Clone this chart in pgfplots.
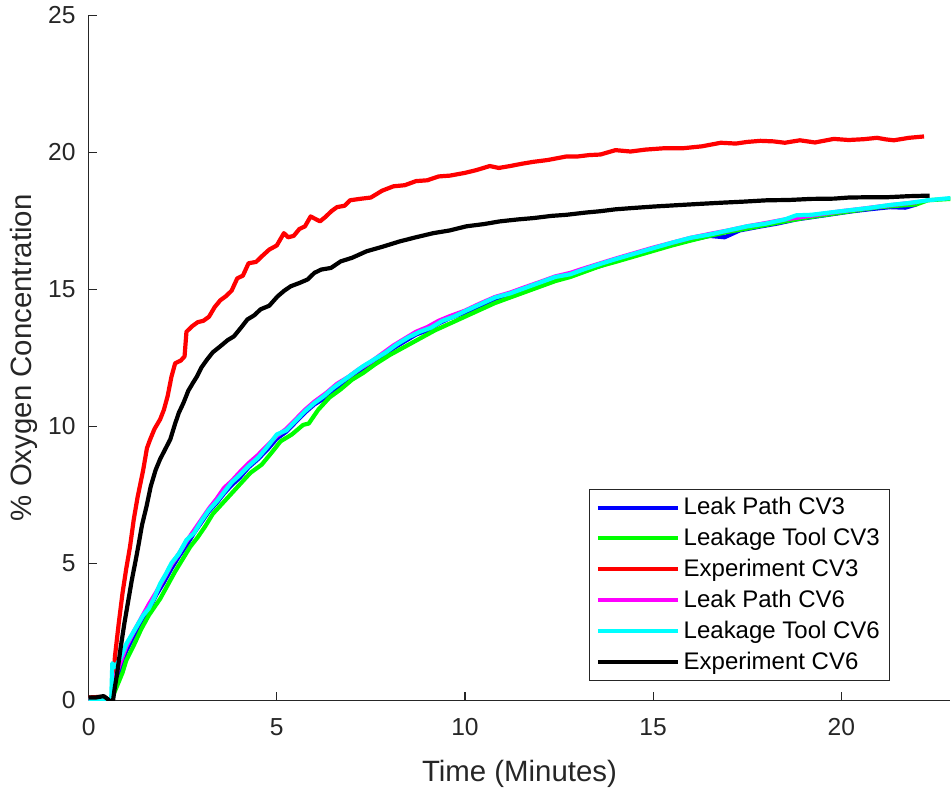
\documentclass[border=0pt]{standalone}
\usepackage{pgfplots}
\pgfplotsset{compat=1.18}
\usepackage{fontspec}
\setmainfont{Liberation Sans}
\definecolor{axgray}{RGB}{38,38,38}
\definecolor{cblue}{RGB}{0,0,255}
\definecolor{cgreen}{RGB}{0,255,0}
\definecolor{cred}{RGB}{255,0,0}
\definecolor{cmag}{RGB}{255,0,255}
\definecolor{ccyan}{RGB}{0,255,255}
\begin{document}
\begin{tikzpicture}
\begin{axis}[
  width=431pt, height=342.5pt, scale only axis,
  xmin=0, xmax=22.9, ymin=0, ymax=25,
  axis lines*=left,
  axis line style={draw=axgray, line width=0.6pt},
  tick style={draw=axgray, line width=0.6pt},
  tick align=inside, major tick length=4pt,
  xtick={0,5,10,15,20}, ytick={0,5,10,15,20,25},
  /pgf/number format/assume math mode=true,
  tick label style={font=\fontsize{12.3}{14}\selectfont, text=axgray},
  xticklabel style={yshift=-5.5pt},
  yticklabel style={xshift=-3pt},
  xlabel={Time (Minutes)},
  ylabel={\% Oxygen Concentration},
  xlabel shift=5.5pt,
  ylabel shift=-1.5pt,
  ylabel style={name=ylab},
  label style={font=\fontsize{14.7}{17}\selectfont, text=axgray},
  legend style={at={(axis description cs:1,0)}, anchor=south east, xshift=-30pt, yshift=9.5pt,
    draw=axgray, line width=0.6pt, fill=white, font=\fontsize{12}{14}\selectfont,
    row sep=1.3pt, inner xsep=3pt, inner ysep=2pt},
  legend cell align=left,
  legend image code/.code={\draw[#1, line width=2pt] (0pt,0pt) -- (40pt,0pt);},
  every axis plot/.append style={line width=2.1pt, line join=round},
]
\addplot[color=cblue] coordinates {
(0,0) (0.6,0) (0.7,0.6) (0.85,1.2) (1.0,1.8) (1.2,2.35) (1.4,2.85) (1.6,3.3) (1.8,3.85) (2.0,4.3) (2.2,4.8) (2.4,5.25) (2.6,5.65) (2.8,6.1) (3.0,6.5) (3.2,6.9) (3.4,7.2) (3.6,7.55) (3.8,7.85) (4.0,8.1) (4.25,8.5) (4.5,8.8) (4.75,9.15) (5.0,9.55) (5.25,9.8) (5.5,10.15) (5.75,10.5) (6.0,10.8) (6.3,11.05) (6.6,11.4) (6.9,11.7) (7.2,12.0) (7.5,12.25) (7.8,12.55) (8.1,12.85) (8.4,13.1) (8.7,13.35) (9.0,13.5) (9.3,13.75) (9.6,13.95) (10.0,14.15) (10.4,14.4) (10.8,14.65) (11.2,14.8) (11.6,15.0) (12.0,15.2) (12.4,15.4) (12.8,15.5) (13.2,15.7) (13.6,15.85) (14.0,16.05) (14.5,16.25) (15.0,16.45) (15.5,16.62) (16.0,16.8) (16.5,16.95) (16.9,16.9) (17.3,17.15) (17.8,17.28) (18.3,17.4) (18.8,17.55) (19.3,17.65) (19.8,17.75) (20.3,17.85) (20.8,17.93) (21.3,18.0) (21.7,17.98) (22.0,18.1)
};
\addlegendentry{Leak Path CV3}
\addplot[color=cgreen] coordinates {
(0,0) (0.6,0) (0.75,0.5) (0.9,1.0) (1.0,1.45) (1.2,2.0) (1.4,2.6) (1.6,3.1) (1.8,3.5) (1.9,3.7) (2.1,4.2) (2.3,4.7) (2.5,5.15) (2.7,5.6) (2.9,5.95) (3.1,6.35) (3.3,6.8) (3.5,7.1) (3.7,7.4) (3.9,7.7) (4.1,8.0) (4.3,8.3) (4.6,8.6) (4.9,9.1) (5.1,9.45) (5.4,9.7) (5.7,10.05) (5.85,10.1) (6.1,10.6) (6.4,11.05) (6.7,11.35) (7.0,11.7) (7.3,11.95) (7.6,12.25) (8.0,12.6) (8.4,12.9) (8.8,13.2) (9.2,13.5) (9.6,13.75) (10.0,14.0) (10.4,14.25) (10.8,14.5) (11.2,14.7) (11.6,14.9) (12.0,15.1) (12.4,15.3) (12.8,15.45) (13.2,15.65) (13.6,15.85) (14.0,16.0) (14.5,16.2) (15.0,16.4) (15.5,16.6) (16.0,16.78) (16.5,16.95) (17.0,17.1) (17.5,17.22) (18.0,17.35) (18.5,17.48) (19.0,17.6) (19.5,17.7) (20.0,17.8) (20.5,17.9) (21.0,18.0) (21.5,18.05) (22.0,18.1) (22.3,18.25) (22.9,18.3)
};
\addlegendentry{Leakage Tool CV3}
\addplot[color=cred] coordinates {
(0,0.1) (0.3,0.12) (0.45,0.1) (0.55,-0.05) (0.62,0.0) (0.7,1.6) (0.8,2.8) (0.9,3.9) (1.0,4.8) (1.1,5.6) (1.2,6.6) (1.3,7.4) (1.36,7.8) (1.45,8.4) (1.55,9.2) (1.63,9.5) (1.75,9.9) (1.9,10.25) (2.0,10.6) (2.1,11.1) (2.2,11.8) (2.3,12.3) (2.45,12.4) (2.55,12.55) (2.6,13.45) (2.75,13.65) (2.9,13.8) (3.05,13.85) (3.2,14.0) (3.35,14.35) (3.5,14.6) (3.65,14.75) (3.8,14.95) (3.95,15.4) (4.1,15.5) (4.25,15.95) (4.45,16.0) (4.6,16.2) (4.8,16.45) (5.0,16.6) (5.19,17.05) (5.3,16.9) (5.45,16.95) (5.6,17.2) (5.75,17.3) (5.9,17.66) (6.05,17.55) (6.15,17.48) (6.3,17.65) (6.45,17.85) (6.6,18.0) (6.8,18.05) (6.95,18.25) (7.2,18.3) (7.5,18.35) (7.8,18.6) (8.1,18.76) (8.4,18.8) (8.7,18.95) (9.0,18.98) (9.3,19.12) (9.6,19.15) (10.0,19.25) (10.3,19.35) (10.66,19.5) (10.9,19.43) (11.2,19.5) (11.5,19.58) (11.8,19.65) (12.2,19.72) (12.7,19.85) (13.0,19.85) (13.3,19.9) (13.6,19.92) (14.0,20.08) (14.4,20.03) (14.8,20.1) (15.3,20.15) (15.8,20.15) (16.3,20.22) (16.8,20.35) (17.2,20.32) (17.5,20.38) (17.85,20.42) (18.2,20.4) (18.5,20.35) (18.9,20.44) (19.3,20.36) (19.8,20.49) (20.2,20.45) (20.6,20.48) (20.95,20.53) (21.2,20.47) (21.4,20.44) (21.8,20.53) (22.2,20.58)
};
\addlegendentry{Experiment CV3}
\addplot[color=cmag] coordinates {
(0,0) (0.6,0) (0.7,0.8) (0.85,1.4) (1.0,1.95) (1.2,2.5) (1.4,3.0) (1.6,3.5) (1.8,3.95) (2.0,4.45) (2.2,4.95) (2.4,5.35) (2.6,5.8) (2.8,6.2) (3.0,6.6) (3.2,7.0) (3.4,7.35) (3.6,7.75) (3.8,8.0) (4.0,8.3) (4.25,8.65) (4.5,8.95) (4.75,9.3) (5.0,9.65) (5.25,9.9) (5.5,10.25) (5.75,10.6) (6.0,10.9) (6.3,11.2) (6.6,11.55) (6.9,11.8) (7.2,12.1) (7.5,12.35) (7.8,12.65) (8.1,12.95) (8.4,13.2) (8.7,13.45) (9.0,13.62) (9.3,13.85) (9.6,14.02) (10.0,14.22) (10.4,14.48) (10.8,14.72) (11.2,14.88) (11.6,15.08) (12.0,15.27) (12.4,15.47) (12.8,15.6) (13.2,15.78) (13.6,15.95) (14.0,16.12) (14.5,16.32) (15.0,16.52) (15.5,16.7) (16.0,16.88) (16.5,17.02) (17.0,17.15) (17.5,17.3) (18.0,17.42) (18.5,17.55) (19.0,17.65) (19.5,17.75) (20.0,17.85) (20.5,17.93) (21.0,18.02) (21.5,18.1) (22.0,18.18)
};
\addlegendentry{Leak Path CV6}
\addplot[color=ccyan] coordinates {
(0,0.02) (0.3,0.02) (0.6,0.0) (0.63,1.35) (0.7,1.2) (0.85,1.55) (1.0,2.05) (1.15,2.4) (1.3,2.75) (1.45,3.1) (1.6,3.35) (1.75,3.75) (1.9,4.25) (2.05,4.6) (2.2,5.0) (2.4,5.35) (2.6,5.85) (2.8,6.1) (3.0,6.55) (3.2,6.95) (3.4,7.25) (3.6,7.6) (3.8,7.95) (4.0,8.2) (4.25,8.55) (4.5,8.85) (4.75,9.25) (5.0,9.7) (5.25,9.85) (5.5,10.2) (5.75,10.55) (6.0,10.85) (6.25,11.1) (6.5,11.4) (6.75,11.65) (7.0,11.9) (7.3,12.2) (7.6,12.45) (7.9,12.7) (8.2,13.0) (8.5,13.25) (8.8,13.45) (9.1,13.6) (9.4,13.85) (9.7,14.0) (10.0,14.2) (10.4,14.45) (10.8,14.7) (11.2,14.85) (11.6,15.05) (12.0,15.25) (12.4,15.45) (12.8,15.55) (13.2,15.75) (13.6,15.93) (14.0,16.1) (14.5,16.3) (15.0,16.5) (15.5,16.7) (16.0,16.88) (16.5,17.0) (17.0,17.15) (17.5,17.3) (18.0,17.4) (18.5,17.55) (18.8,17.7) (19.2,17.72) (19.8,17.82) (20.3,17.9) (20.8,17.98) (21.3,18.08) (21.8,18.15) (22.3,18.25) (22.9,18.33)
};
\addlegendentry{Leakage Tool CV6}
\addplot[color=black] coordinates {
(0,0.1) (0.2,0.1) (0.4,0.15) (0.5,0.05) (0.58,-0.05) (0.65,0.0) (0.7,0.5) (0.75,0.9) (0.85,1.9) (0.95,2.8) (1.05,3.6) (1.15,4.4) (1.25,5.1) (1.32,5.62) (1.42,6.4) (1.54,7.08) (1.65,7.8) (1.78,8.4) (1.9,8.8) (2.05,9.2) (2.17,9.52) (2.3,10.1) (2.4,10.5) (2.52,10.85) (2.65,11.3) (2.78,11.6) (2.88,11.82) (3.0,12.15) (3.15,12.44) (3.3,12.7) (3.5,12.92) (3.7,13.15) (3.86,13.28) (4.05,13.6) (4.22,13.9) (4.4,14.05) (4.57,14.27) (4.8,14.4) (5.02,14.74) (5.2,14.95) (5.37,15.11) (5.6,15.23) (5.82,15.36) (6.0,15.6) (6.18,15.72) (6.44,15.78) (6.7,16.02) (7.0,16.15) (7.39,16.39) (7.8,16.55) (8.27,16.75) (8.7,16.9) (9.16,17.05) (9.6,17.15) (10.04,17.3) (10.5,17.38) (10.93,17.48) (11.4,17.55) (11.82,17.6) (12.3,17.68) (12.7,17.72) (13.2,17.8) (13.59,17.85) (14.0,17.92) (14.48,17.97) (15.0,18.02) (15.5,18.06) (16.26,18.12) (16.8,18.16) (17.4,18.2) (18.03,18.25) (18.6,18.26) (19.2,18.3) (19.8,18.31) (20.2,18.35) (20.68,18.36) (21.2,18.36) (21.8,18.4) (22.35,18.42)
};
\addlegendentry{Experiment CV6}
\end{axis}
\path ([xshift=-1.5pt]ylab.north);
\end{tikzpicture}
\end{document}
